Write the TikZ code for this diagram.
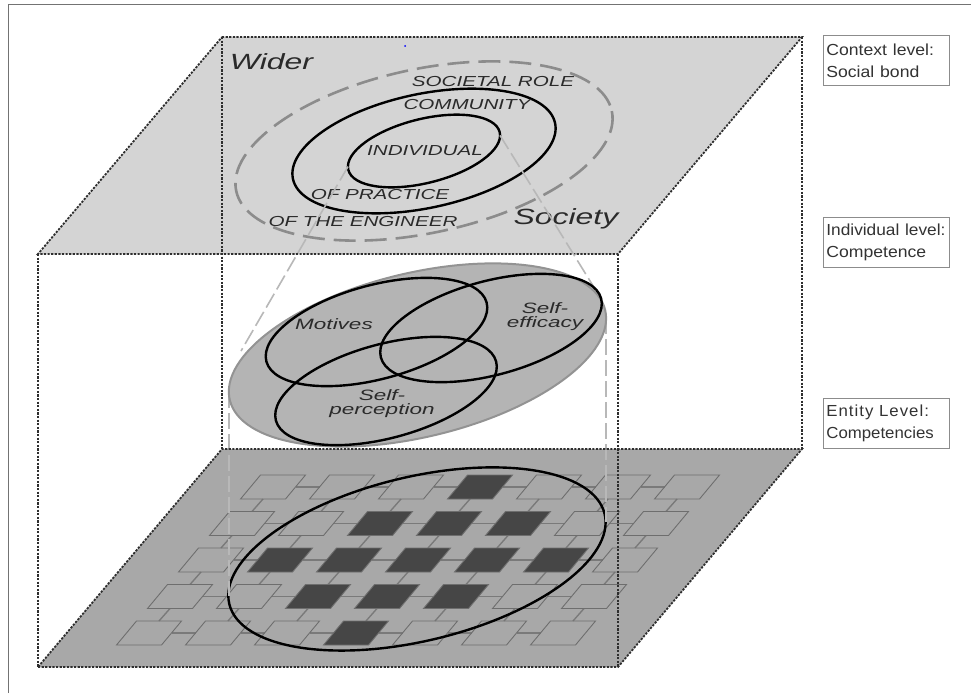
\documentclass[tikz,border=0pt]{standalone}
\usepackage{fontspec}
\setmainfont{Liberation Sans}
\usepackage{graphicx}
\usetikzlibrary{calc}

\definecolor{topplane}{HTML}{D4D4D4}
\definecolor{botplane}{HTML}{A8A8A8}
\definecolor{ovalfill}{HTML}{B4B4B4}
\definecolor{ovaledge}{HTML}{939393}
\definecolor{darktile}{HTML}{464646}
\definecolor{tileedge}{HTML}{6E6E6E}
\definecolor{inktext}{HTML}{2A2A2A}

\newcommand\hstretch[2]{\scalebox{#1}[1]{#2}}

\begin{document}
\begin{tikzpicture}[x=1pt,y=-1pt,
  boxedge/.style={draw=black!82, line width=1.8pt, dash pattern=on 2.2pt off 1.4pt},
  ring/.style={draw=black, line width=2.4pt},
  outerring/.style={draw=black!45, line width=2.6pt, dash pattern=on 22pt off 9pt},
  projline/.style={draw=black!28, line width=1.6pt, dash pattern=on 16pt off 5pt},
  toptext/.style={text=inktext, font=\fontsize{14.5}{16}\selectfont\itshape, inner sep=0pt},
  bigtext/.style={text=inktext, font=\fontsize{22}{26}\selectfont\itshape, inner sep=0pt},
  venntext/.style={text=inktext, font=\fontsize{15}{14}\selectfont\itshape, inner sep=0pt, align=center},
  lighttile/.style={draw=tileedge, line width=0.9pt},
  filledtile/.style={draw=tileedge, fill=darktile, line width=0.9pt},
  link/.style={draw=black!52, line width=1.4pt},
  levelbox/.style={draw=black!45, line width=0.8pt, text=black!80, anchor=north west,
    font=\fontsize{16}{22}\selectfont, align=left, text width=120pt,
    minimum height=50pt, inner xsep=3pt, inner ysep=2pt},
]
\useasboundingbox (0,0) rectangle (971,693);
\fill[white] (0,0) rectangle (971,693);

% page frame (left and top edges)
\draw[black!55, line width=1pt] (8,693) -- (8,5) -- (971,5);

% ---- bottom plane: competencies ----
\coordinate (bBL) at (38,667);
\coordinate (bBR) at (618,667);
\coordinate (bTR) at (802,449);
\coordinate (bTL) at (222,449);
\fill[botplane] (bBL) -- (bBR) -- (bTR) -- (bTL) -- cycle;

% grid of competency tiles
\foreach \r in {0,...,4} {
  \foreach \c in {0,...,6} {
    \pgfmathsetmacro\cx{273+69*\c-31*\r}
    \pgfmathsetmacro\cy{487+36.5*\r}
    \coordinate (t-\r-\c) at (\cx,\cy);
    \coordinate (te-\r-\c) at (\cx+22.5,\cy);
    \coordinate (tw-\r-\c) at (\cx-22.5,\cy);
    \coordinate (tn-\r-\c) at (\cx+10,\cy-12);
    \coordinate (ts-\r-\c) at (\cx-10,\cy+12);
  }
}
\foreach \r in {0,...,4} {
  \foreach \c [evaluate=\c as \cn using int(\c+1)] in {0,...,5} {
    \draw[link] (te-\r-\c) -- (tw-\r-\cn);
  }
}
\foreach \r [evaluate=\r as \rn using int(\r+1)] in {0,...,3} {
  \foreach \c in {0,...,6} {
    \draw[link] (ts-\r-\c) -- (tn-\rn-\c);
  }
}
\foreach \r in {0,...,4} {
  \foreach \c in {0,...,6} {
    \pgfmathtruncatemacro\inner{(abs(\c-3)+abs(\r-2))<=2 ? 1 : 0}
    \ifnum\inner=1
      \def\tilestyle{filledtile}
    \else
      \def\tilestyle{lighttile}
    \fi
    \draw[\tilestyle] ([shift={(-12.5,-12)}]t-\r-\c) -- ([shift={(32.5,-12)}]t-\r-\c)
      -- ([shift={(12.5,12)}]t-\r-\c) -- ([shift={(-32.5,12)}]t-\r-\c) -- cycle;
  }
}

% selection ellipse on the bottom plane
\coordinate (botC) at (417,559);
\draw[ring, rotate around={13.5:(botC)}] (botC) ellipse [x radius=193, y radius=82];
\coordinate (botL) at (229,596);
\coordinate (botR) at (606,522);

% ---- middle level: competence ----
\coordinate (ovC) at (417.5,355);
\coordinate (ovL) at (229,392);
\coordinate (ovR) at (606,318);
\draw[projline] (ovL) -- (botL);
\draw[projline] (ovR) -- (botR);

% vertical edges of the box
\coordinate (tTL) at (222,37);
\coordinate (tTR) at (802,37);
\coordinate (tBR) at (618,254);
\coordinate (tBL) at (38,254);
\draw[boxedge] (tBL) -- (bBL);
\draw[boxedge] (tBR) -- (bBR);
\draw[boxedge] (bBL) -- (bBR) -- (bTR) -- (bTL) -- cycle;

% ---- top plane: context ----
\fill[topplane] (tTL) -- (tTR) -- (tBR) -- (tBL) -- cycle;
\draw[boxedge] (tTL) -- (bTL);
\draw[boxedge] (tTR) -- (bTR);
\draw[boxedge] (tTL) -- (tTR) -- (tBR) -- (tBL) -- cycle;
\fill[blue] (405,46) circle (1pt);

\coordinate (ctrC) at (424,151);
\draw[outerring, rotate around={12:(ctrC)}] (ctrC) ellipse [x radius=192, y radius=82];
\draw[ring, rotate around={12:(ctrC)}] (ctrC) ellipse [x radius=134, y radius=57];
\draw[ring, rotate around={14:(ctrC)}] (ctrC) ellipse [x radius=78, y radius=32];

\node[bigtext] (wider) at (271.5,62) {\hstretch{1.45}{Wider}};
\node[bigtext] (society) at (566,219) {\hstretch{1.45}{Society}};
\node[toptext] (role) at (493,82) {\hstretch{1.42}{SOCIETAL ROLE}};
\node[toptext] (comm) at (467,105) {\hstretch{1.42}{COMMUNITY}};
\node[toptext] (indiv) at (425,151) {\hstretch{1.42}{INDIVIDUAL}};
\node[toptext] (pract) at (380,195) {\hstretch{1.42}{OF PRACTICE}};
\node[toptext] (engin) at (363,222) {\hstretch{1.42}{OF THE ENGINEER}};

% projection lines from the individual down to competence
\coordinate (indL) at (348,166.6);
\coordinate (indR) at (500,135.4);
\coordinate (ovUL) at (241,351);
\coordinate (ovUR) at (595,289);
\draw[projline] (indL) -- (ovUL);
\draw[projline] (indR) -- (ovUR);

% competence oval with its three components
\draw[ovaledge, fill=ovalfill, line width=2pt, rotate around={13.5:(ovC)}] (ovC) ellipse [x radius=193, y radius=82];
\coordinate (motC) at (376.5,332);
\coordinate (effC) at (491,328);
\coordinate (perC) at (386,391);
\draw[ring, rotate around={15:(motC)}] (motC) ellipse [x radius=114, y radius=47];
\draw[ring, rotate around={15:(effC)}] (effC) ellipse [x radius=114, y radius=47];
\draw[ring, rotate around={15:(perC)}] (perC) ellipse [x radius=114, y radius=47];
\node[venntext] (mot) at (334,324) {\hstretch{1.5}{Motives}};
\node[venntext] (eff) at (545,317) {\hstretch{1.5}{Self-}\\\hstretch{1.5}{efficacy}};
\node[venntext] (per) at (382,404) {\hstretch{1.5}{Self-}\\\hstretch{1.5}{perception}};

% level captions
\node[levelbox] (ctxbox) at (823,35) {\hstretch{1.1}{Context level:}\\\hstretch{1.1}{Social bond}};
\node[levelbox] (indbox) at (823,217) {\hstretch{1.08}{Individual level:}\\\hstretch{1.1}{Competence}};
\node[levelbox] (entbox) at (823,398) {\hstretch{1.05}{\addfontfeatures{LetterSpace=6}Entity Level:}\\\hstretch{1.05}{Competencies}};
\end{tikzpicture}
\end{document}
